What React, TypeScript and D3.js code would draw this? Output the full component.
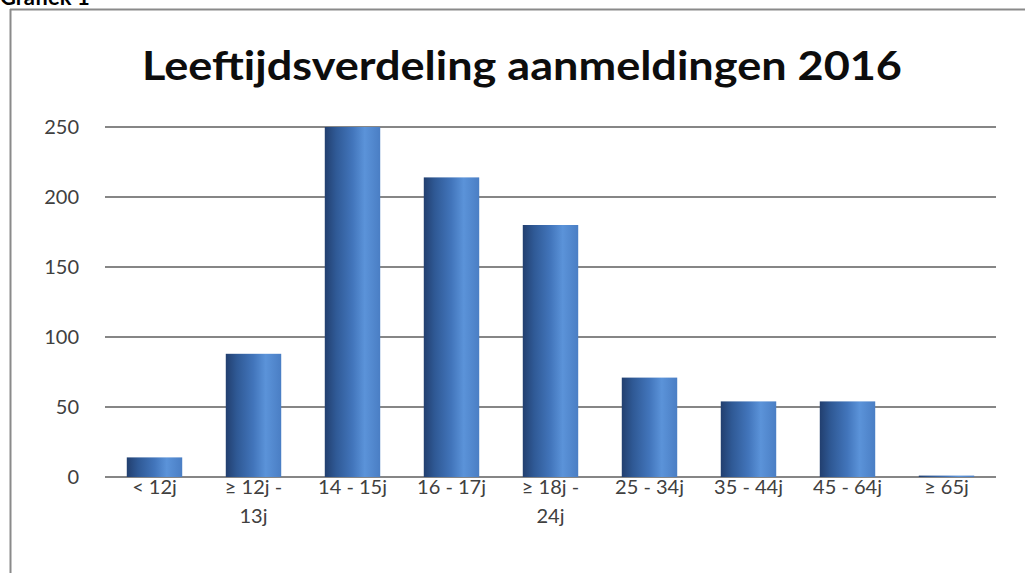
import React from "react";
import * as d3 from "d3";

const categories: string[][] = [
  ["< 12j"],
  ["≥ 12j -", "13j"],
  ["14 - 15j"],
  ["16 - 17j"],
  ["≥ 18j -", "24j"],
  ["25 - 34j"],
  ["35 - 44j"],
  ["45 - 64j"],
  ["≥ 65j"],
];
const values: number[] = [14, 88, 250, 214, 180, 71, 54, 54, 1];
const yTicks: number[] = [0, 50, 100, 150, 200, 250];
const title = "Leeftijdsverdeling aanmeldingen 2016";
const caption = "Grafiek 1";

const W = 1025;
const H = 573;

export default function App() {
  const x = d3
    .scaleBand<number>()
    .domain(values.map((_, i) => i))
    .range([105, 996])
    .paddingInner(0.44)
    .paddingOuter(0.22);
  const y = d3.scaleLinear().domain([0, 250]).range([477, 127]);
  const font = "Lato, 'Open Sans', 'Liberation Sans', sans-serif";

  return (
    <svg
      width={W}
      height={H}
      style={{ position: "absolute", left: 0, top: 0, background: "#fff" }}
    >
      <defs>
        <linearGradient id="barGrad" x1="0" x2="1" y1="0" y2="0">
          <stop offset="0" stopColor="#223f6f" />
          <stop offset="0.2" stopColor="#2f5995" />
          <stop offset="0.5" stopColor="#4275bb" />
          <stop offset="0.72" stopColor="#5b93d9" />
          <stop offset="1" stopColor="#4a7ec4" />
        </linearGradient>
      </defs>
      <text
        x={0}
        y={5}
        fontFamily={font}
        fontWeight={700}
        fontSize={22}
        fill="#000"
      >
        {caption}
      </text>
      <line x1={10} x2={W} y1={9.5} y2={9.5} stroke="#8a8a8a" strokeWidth={2} />
      <line x1={10.5} x2={10.5} y1={9} y2={H} stroke="#8a8a8a" strokeWidth={2} />
      <text
        x={522}
        y={80}
        textAnchor="middle"
        fontFamily={font}
        fontWeight={700}
        fontSize={40}
        fill="#0d0d0d"
        textLength={760}
        lengthAdjust="spacingAndGlyphs"
      >
        {title}
      </text>
      {yTicks.map((t) => (
        <g key={t}>
          <line
            x1={105}
            x2={996}
            y1={y(t)}
            y2={y(t)}
            stroke="#868686"
            strokeWidth={2}
          />
          <text
            x={79}
            y={y(t)}
            dy="0.35em"
            textAnchor="end"
            fontFamily={font}
            fontSize={20}
            fill="#404040"
          >
            {t}
          </text>
        </g>
      ))}
      {values.map((v, i) => (
        <rect
          key={i}
          x={x(i)}
          y={y(v)}
          width={x.bandwidth()}
          height={y(0) - y(v)}
          fill="url(#barGrad)"
        />
      ))}
      {categories.map((lines, i) => (
        <text
          key={i}
          x={(x(i) ?? 0) + x.bandwidth() / 2}
          y={494}
          textAnchor="middle"
          fontFamily={font}
          fontSize={20}
          fill="#404040"
        >
          {lines.map((l, j) => (
            <tspan key={j} x={(x(i) ?? 0) + x.bandwidth() / 2} dy={j === 0 ? 0 : 29}>
              {l}
            </tspan>
          ))}
        </text>
      ))}
    </svg>
  );
}
